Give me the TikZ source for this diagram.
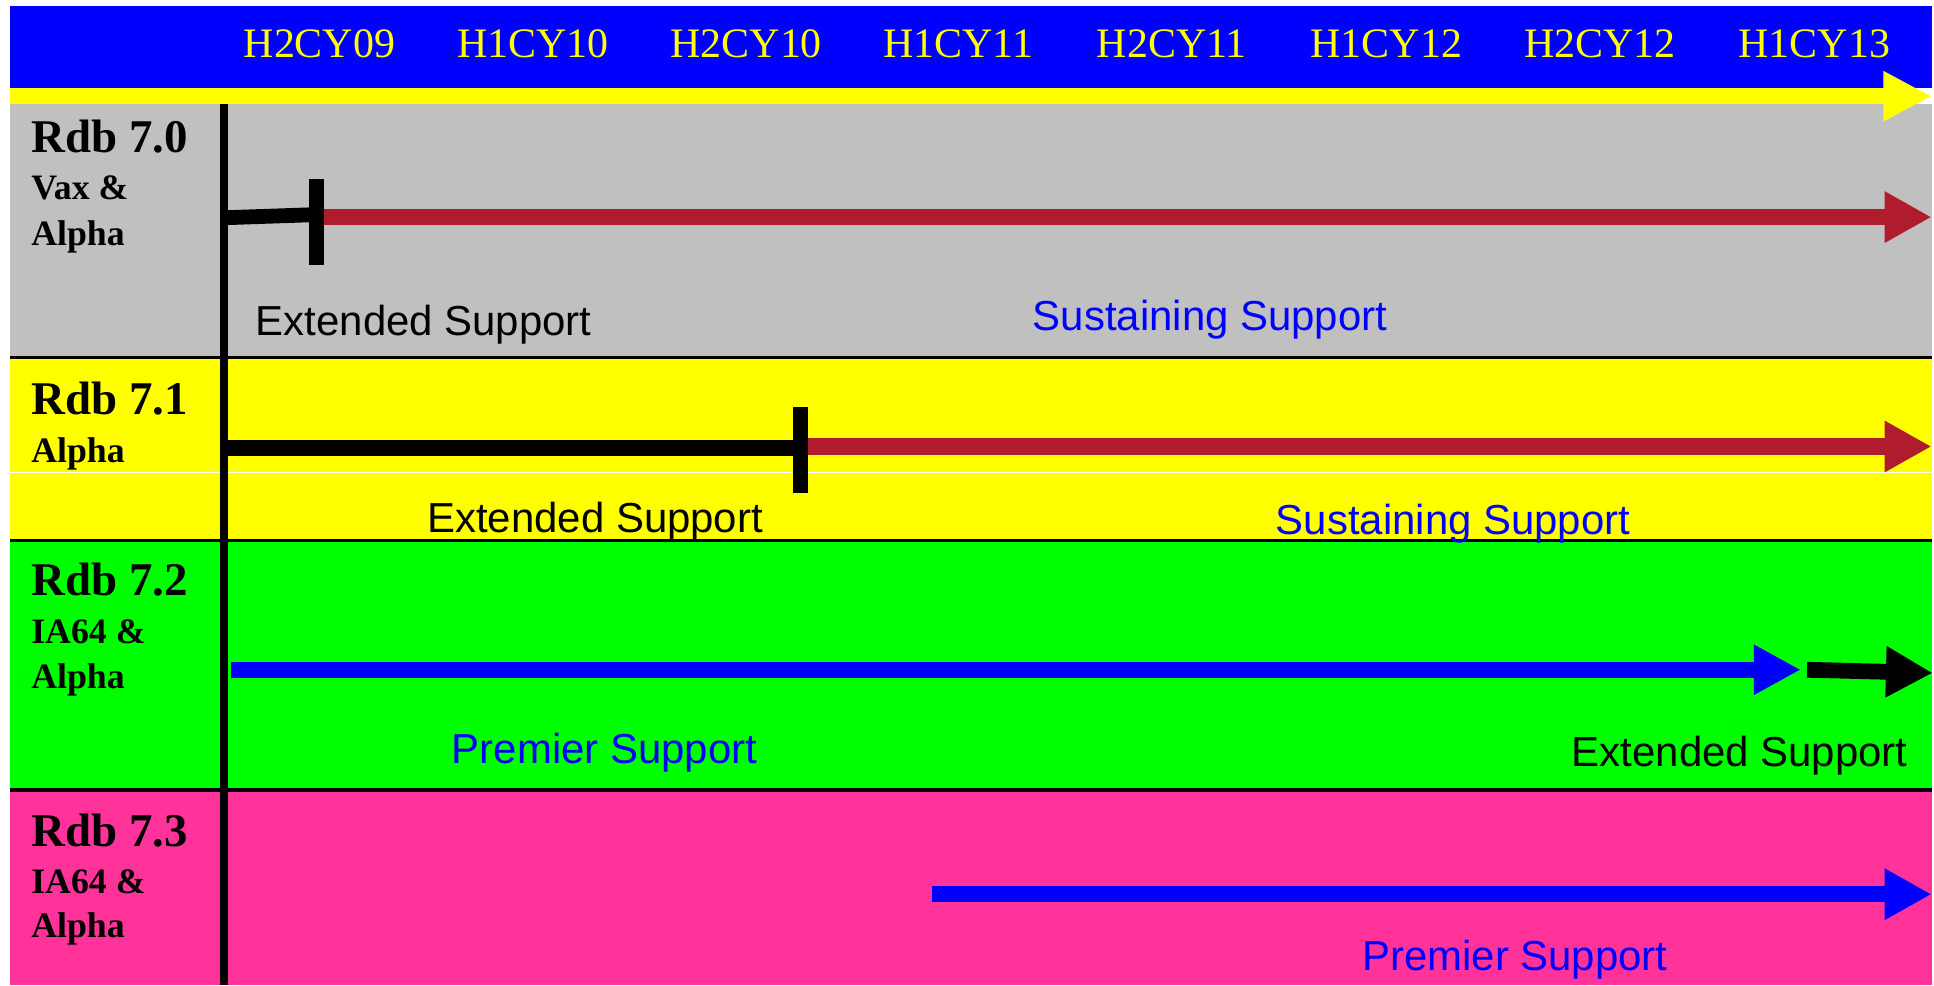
\documentclass[tikz,border=0pt]{standalone}
\usepackage{fontspec}
\setmainfont{Liberation Serif}
\newfontfamily\arialf{Liberation Sans}
\usetikzlibrary{arrows.meta}
\definecolor{hdrblue}{HTML}{0000FF}
\definecolor{bandyellow}{HTML}{FFFF00}
\definecolor{bandgray}{HTML}{C0C0C0}
\definecolor{bandgreen}{HTML}{00FF00}
\definecolor{bandpink}{HTML}{FF3399}
\definecolor{sustred}{HTML}{B01C2E}
\definecolor{txtblue}{HTML}{0000FF}
\tikzset{
  hdr/.style={inner sep=0pt, anchor=base, text=bandyellow, font=\fontsize{17pt}{17pt}\selectfont},
  rdb/.style={inner sep=0pt, anchor=base west, font=\fontsize{19pt}{19pt}\selectfont\bfseries},
  plat/.style={inner sep=0pt, anchor=base west, font=\fontsize{14.5pt}{14.5pt}\selectfont\bfseries},
  suptxt/.style={inner sep=0pt, anchor=base west, font=\arialf\fontsize{17pt}{17pt}\selectfont},
  rowline/.style={line width=1.25pt, black},
  bigarrow/.style={line width=6.5pt, -{Triangle[length=19pt,width=19.5pt]}},
  endbar/.style={line width=5.8pt, black},
}
\begin{document}
\begin{tikzpicture}[x=0.5pt,y=-0.5pt]
\useasboundingbox (0,0) rectangle (1568,798.6);
\fill[white] (0,0) rectangle (1568,798.6);
% bands
\fill[hdrblue] (8,4.9) rectangle (1566,71.5);
\fill[bandgray] (8,84.4) rectangle (1566,290);
\fill[bandyellow] (8,290) rectangle (1566,438.5);
\fill[bandgreen] (8,438.5) rectangle (1566,640.5);
\fill[bandpink] (8,640.5) rectangle (1566,798.6);
\draw[white, line width=0.4pt] (8,383) -- (1566,383);
% row separators
\coordinate (s1l) at (8,290);   \coordinate (s1r) at (1566,290);
\coordinate (s2l) at (8,438.5); \coordinate (s2r) at (1566,438.5);
\coordinate (s3l) at (8,640.5); \coordinate (s3r) at (1566,640.5);
\draw[rowline] (s1l) -- (s1r);
\draw[rowline] (s2l) -- (s2r);
\draw[rowline] (s3l) -- (s3r);
% vertical axis
\coordinate (vt) at (181.5,84.4); \coordinate (vb) at (181.5,798.6);
\draw[line width=3pt, black] (vt) -- (vb);
% time axis arrow
\coordinate (tas) at (8,78); \coordinate (tae) at (1566,78);
\draw[bandyellow, line width=6.45pt, -{Triangle[length=19.5pt,width=19pt]}] (tas) -- (tae);
% header labels
\node[hdr] (h1) at (259,46.5) {H2CY09};
\node[hdr] (h2) at (432,46.5) {H1CY10};
\node[hdr] (h3) at (605,46.5) {H2CY10};
\node[hdr] (h4) at (777,46.5) {H1CY11};
\node[hdr] (h5) at (950,46.5) {H2CY11};
\node[hdr] (h6) at (1124,46.5) {H1CY12};
\node[hdr] (h7) at (1297,46.5) {H2CY12};
\node[hdr] (h8) at (1471,46.5) {H1CY13};
% row labels
\node[rdb]  (r0)  at (25,124) {Rdb 7.0};
\node[plat] (r0a) at (25,162) {Vax \&};
\node[plat] (r0b) at (25,199) {Alpha};
\node[rdb]  (r1)  at (25,336) {Rdb 7.1};
\node[plat] (r1a) at (25,375) {Alpha};
\node[rdb]  (r2)  at (25,483) {Rdb 7.2};
\node[plat] (r2a) at (25,522) {IA64 \&};
\node[plat] (r2b) at (25,558) {Alpha};
\node[rdb]  (r3)  at (25,686) {Rdb 7.3};
\node[plat] (r3a) at (25,724) {IA64 \&};
\node[plat] (r3b) at (25,760) {Alpha};
% row 7.0
\coordinate (a0s) at (183,176.5); \coordinate (a0e) at (256,174);
\coordinate (b0t) at (256.5,145); \coordinate (b0b) at (256.5,215);
\coordinate (c0s) at (263,176); \coordinate (c0e) at (1566,176);
\draw[black, line width=6pt] (a0s) -- (a0e);
\draw[endbar] (b0t) -- (b0b);
\draw[sustred, bigarrow, line width=6.75pt] (c0s) -- (c0e);
\node[suptxt] (t0a) at (207,272) {Extended Support};
\node[suptxt, text=txtblue] (t0b) at (837,268) {Sustaining Support};
% row 7.1
\coordinate (a1s) at (183,363); \coordinate (a1e) at (649,363);
\coordinate (b1t) at (649,330); \coordinate (b1b) at (649,400);
\coordinate (c1s) at (655,362); \coordinate (c1e) at (1566,362);
\draw[black, line width=6.5pt] (a1s) -- (a1e);
\draw[endbar] (b1t) -- (b1b);
\draw[sustred, bigarrow] (c1s) -- (c1e);
\node[suptxt] (t1a) at (346,432) {Extended Support};
\node[suptxt, text=txtblue] (t1b) at (1034,433) {Sustaining Support};
% row 7.2
\coordinate (a2s) at (187,543); \coordinate (a2e) at (1460,543);
\coordinate (c2s) at (1465,543); \coordinate (c2e) at (1567,545.6);
\draw[hdrblue, bigarrow, -{Triangle[length=19pt,width=19pt]}] (a2s) -- (a2e);
\draw[black, bigarrow, line width=6.4pt] (c2s) -- (c2e);
\node[suptxt, text=txtblue] (t2a) at (366,619) {Premier Support};
\node[suptxt] (t2b) at (1274,621.5) {Extended Support};
% row 7.3
\coordinate (a3s) at (756,725); \coordinate (a3e) at (1566,725);
\draw[hdrblue, bigarrow, line width=6.4pt] (a3s) -- (a3e);
\node[suptxt, text=txtblue] (t3a) at (1104,787) {Premier Support};
\end{tikzpicture}
\end{document}
